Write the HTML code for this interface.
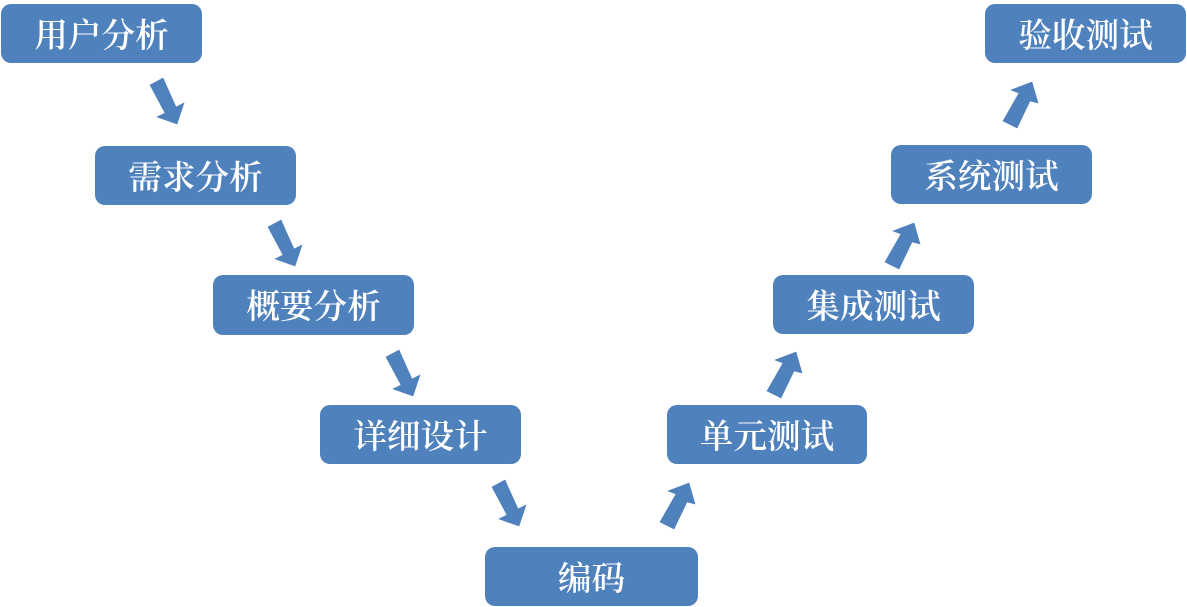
<!DOCTYPE html>
<html><head><meta charset="utf-8"><style>
html,body{margin:0;padding:0;background:#fff}
#c{position:relative;width:1187px;height:607px;overflow:hidden;background:#fff}
.b{position:absolute;background:#4f81bd;border-radius:10px;color:#fff;text-align:center;font:600 33.6px/66px "Liberation Serif","Noto Serif CJK SC",serif;overflow:hidden}
svg{position:absolute;left:0;top:0}
</style></head><body><div id="c">
<svg width="1187" height="607"><defs>
<polygon id="d" points="150,85 163,78 176,107 184,103 177,124 157,117 165,113" fill="#4f81bd" stroke="#4f81bd" stroke-width="0.6"/>
<polygon id="u" points="660,522 674,529 687,502 695,504 689,483 668,491 676,494" fill="#4f81bd" stroke="#4f81bd" stroke-width="0.6"/>
</defs>
<use href="#d"/><use href="#d" x="118" y="142"/><use href="#d" x="236" y="272"/><use href="#d" x="342" y="402"/>
<use href="#u"/><use href="#u" x="107" y="-131"/><use href="#u" x="225" y="-260"/><use href="#u" x="343" y="-401"/>
</svg>
<div class="b" style="left:1px;top:4px;width:201px;height:59px">用户分析</div>
<div class="b" style="left:95px;top:146px;width:201px;height:59px">需求分析</div>
<div class="b" style="left:213px;top:275px;width:201px;height:60px">概要分析</div>
<div class="b" style="left:320px;top:405px;width:201px;height:59px">详细设计</div>
<div class="b" style="left:485px;top:547px;width:213px;height:59px">编码</div>
<div class="b" style="left:667px;top:405px;width:200px;height:59px">单元测试</div>
<div class="b" style="left:773px;top:275px;width:201px;height:59px">集成测试</div>
<div class="b" style="left:891px;top:145px;width:201px;height:59px">系统测试</div>
<div class="b" style="left:985px;top:4px;width:201px;height:59px">验收测试</div>
</div></body></html>
